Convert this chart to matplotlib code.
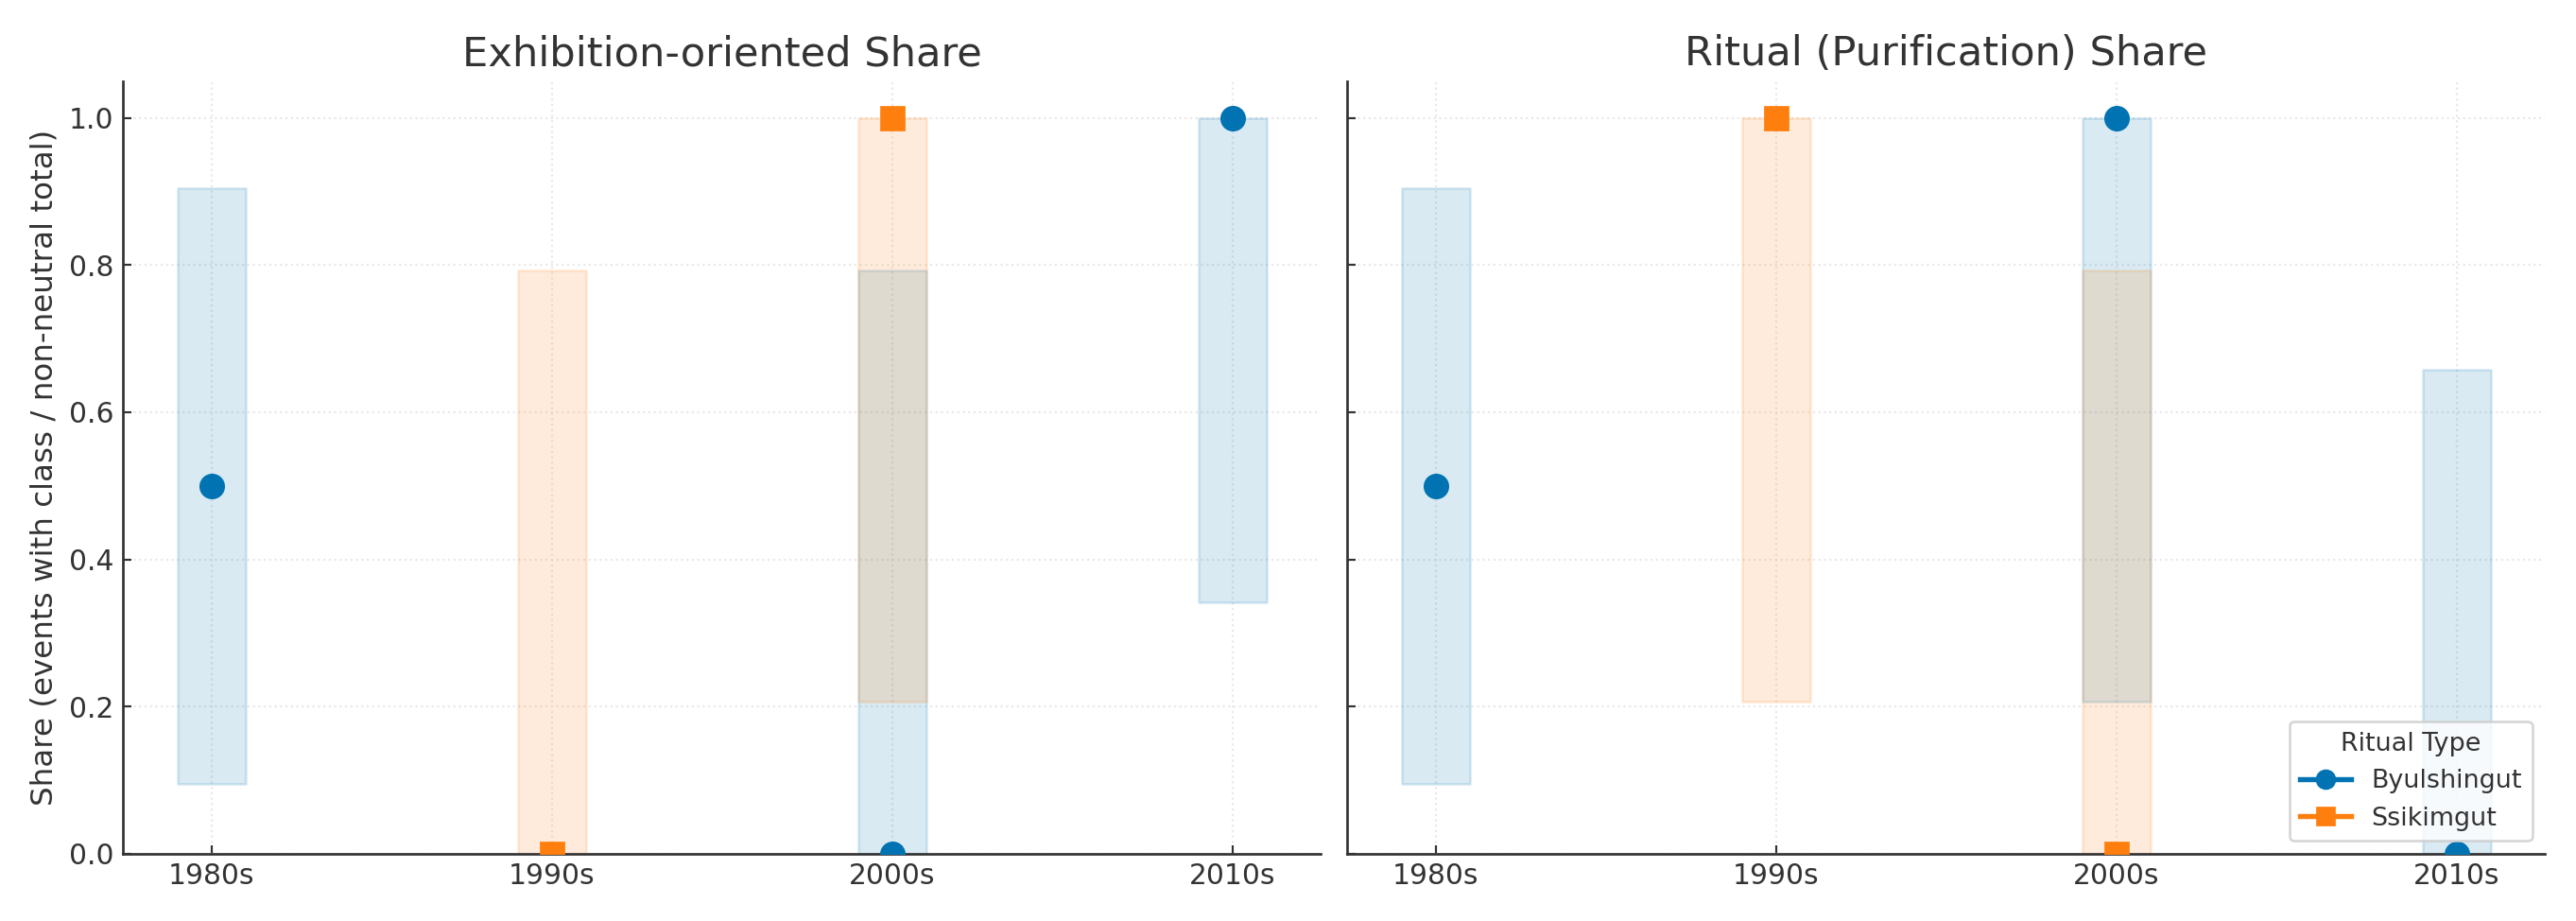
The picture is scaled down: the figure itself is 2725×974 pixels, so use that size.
import matplotlib
matplotlib.use("Agg")
import matplotlib.pyplot as plt
from matplotlib.lines import Line2D
import numpy as np

nan = np.nan
decades = ['1980s', '1990s', '2000s', '2010s']

# Exhibition-oriented share (point, ci low, ci high)
byul_exh = [0.5, nan, 0.0, 1.0]
byul_exh_lo = [0.095, nan, 0.0, 0.342]
byul_exh_hi = [0.905, nan, 0.793, 1.0]
ssik_exh = [nan, 0.0, 1.0, nan]
ssik_exh_lo = [nan, 0.0, 0.207, nan]
ssik_exh_hi = [nan, 0.793, 1.0, nan]

# Ritual (purification) share
byul_rit = [0.5, nan, 1.0, 0.0]
byul_rit_lo = [0.095, nan, 0.207, 0.0]
byul_rit_hi = [0.905, nan, 1.0, 0.658]
ssik_rit = [nan, 1.0, 0.0, nan]
ssik_rit_lo = [nan, 0.207, 0.0, nan]
ssik_rit_hi = [nan, 1.0, 0.793, nan]

BLUE = '#0173b2'
ORANGE = '#ff7f0e'
TXT = '#333333'

plt.rcParams['font.family'] = 'DejaVu Sans'
plt.rcParams['text.color'] = TXT
plt.rcParams['axes.labelcolor'] = TXT
plt.rcParams['xtick.color'] = '#333333'
plt.rcParams['ytick.color'] = '#333333'

fig, axes = plt.subplots(1, 2, figsize=(14, 5.004), sharey=True)
fig.subplots_adjust(left=0.0477, right=0.988, bottom=0.073, top=0.912, wspace=0.022)

x = np.arange(len(decades))


def panel(ax, title, series):
    for vals, lo, hi, color, marker in series:
        for xi, v, l, h in zip(x, vals, lo, hi):
            if np.isnan(v):
                continue
            ax.fill_between([xi - 0.1, xi + 0.1], l, h, color=color, alpha=0.15,
                            linewidth=1, zorder=1)
        ax.plot(x, vals, linestyle='none', marker=marker, color=color,
                markersize=9, zorder=3)
    ax.set_title(title, fontsize=16, color=TXT, pad=6)
    ax.set_xticks(x)
    ax.set_xticklabels(decades)
    ax.set_ylim(0, 1.05)
    ax.grid(True, linestyle=':', color='#e8e8e8', linewidth=0.8, zorder=0)
    ax.set_axisbelow(True)
    for s in ['top', 'right']:
        ax.spines[s].set_visible(False)
    for s in ['left', 'bottom']:
        ax.spines[s].set_color('#333333')
        ax.spines[s].set_linewidth(1.0)
    ax.tick_params(direction='in', length=3.5, labelsize=11)


panel(axes[0], 'Exhibition-oriented Share',
      [(byul_exh, byul_exh_lo, byul_exh_hi, BLUE, 'o'),
       (ssik_exh, ssik_exh_lo, ssik_exh_hi, ORANGE, 's')])
panel(axes[1], 'Ritual (Purification) Share',
      [(byul_rit, byul_rit_lo, byul_rit_hi, BLUE, 'o'),
       (ssik_rit, ssik_rit_lo, ssik_rit_hi, ORANGE, 's')])

axes[0].set_ylabel('Share (events with class / non-neutral total)', fontsize=12)

handles = [Line2D([0], [0], color=BLUE, marker='o', markersize=7, linewidth=2),
           Line2D([0], [0], color=ORANGE, marker='s', markersize=7, linewidth=2)]
axes[1].legend(handles, ['Byulshingut', 'Ssikimgut'], title='Ritual Type',
               loc='lower right', fontsize=10, title_fontsize=10)

fig.savefig('out.png', dpi=194.65)
